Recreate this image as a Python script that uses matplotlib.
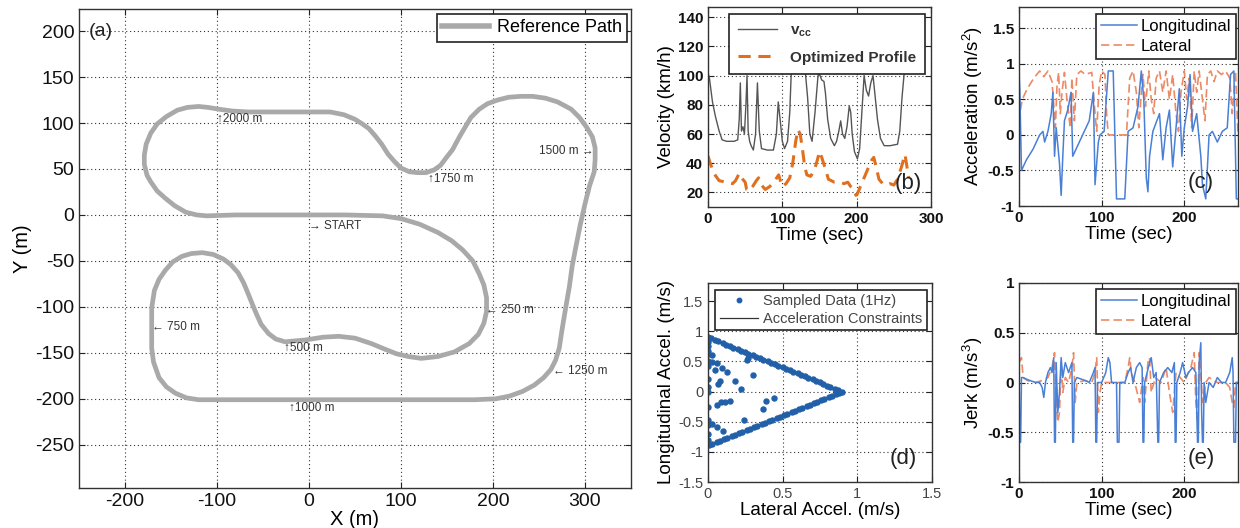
import matplotlib
matplotlib.use("Agg")
import matplotlib.pyplot as plt
from matplotlib.lines import Line2D

plt.rcParams['font.family'] = ['Liberation Sans', 'DejaVu Sans']
plt.rcParams['axes.unicode_minus'] = False
plt.rcParams['mathtext.fontset'] = 'custom'
plt.rcParams['mathtext.rm'] = 'Liberation Sans'
plt.rcParams['mathtext.bf'] = 'Liberation Sans:bold'

# ---------------- (a) reference path ----------------
track_x = [0, 40, 80, 100, 120, 140, 155, 167, 178, 185, 190, 193, 193, 190, 184, 174, 158, 140, 122, 108,
           95, 80, 68, 50, 32, 15, -4, -26, -36, -44, -52, -57, -62, -66, -71, -77, -85, -93, -104, -116,
           -128, -138, -148, -156, -163, -168, -171, -171, -171, -169, -163, -155, -145, -133, -120, -66, 23, 113, 180, 203,
           218, 232, 245, 255, 263, 268, 272, 275, 279, 283, 286, 290, 295, 300, 305, 310, 311, 311, 308, 302,
           294, 285, 270, 257, 243, 230, 217, 205, 194, 185, 176, 170, 163, 156, 149, 143, 136, 127, 118, 109,
           100, 93, 86, 79, 72, 65, 58, 50, 38, 23, 0, -22, -44, -66, -83, -98, -110, -120, -132, -143,
           -155, -165, -172, -177, -179, -179, -176, -172, -165, -156, -146, -134, -122, -111, -80, -40, 0]
track_y = [0, 0, -1, -4, -10, -19, -28, -38, -50, -64, -76, -90, -105, -118, -130, -140, -149, -154, -156, -154,
           -151, -145, -140, -134, -132, -133, -136, -138, -135, -129, -119, -108, -96, -86, -74, -63, -54, -48, -43, -41,
           -42, -45, -51, -60, -70, -82, -101, -123, -145, -160, -177, -187, -194, -199, -201, -201, -201, -201, -201, -200,
           -197, -192, -185, -177, -168, -158, -145, -125, -101, -78, -56, -35, -10, 12, 32, 47, 60, 73, 85, 95,
           106, 115, 123, 127, 129, 129, 128, 125, 121, 115, 106, 96, 84, 71, 62, 54, 49, 46, 46, 47,
           51, 58, 66, 77, 86, 94, 99, 104, 109, 112, 112, 112, 112, 112, 113, 115, 117, 118, 117, 114,
           107, 99, 89, 77, 65, 55, 43, 36, 26, 18, 10, 3, 0, -1, 0, 0, 0]

marker_text = ["\u21912000 m", "\u21911750 m", "1500 m \u2192", "\u2192 START", "\u2190 250 m",
               "\u2190 750 m", "\u2191500 m", "\u21911000 m", "\u2190 1250 m"]
marker_x = [-100, 129, 309, 0, 192, -171, -27, -22, 265]
marker_y = [104, 39, 70, -12, -103, -122, -145, -210, -170]
marker_ha = ['left', 'left', 'right', 'left', 'left', 'left', 'left', 'left', 'left']

# ---------------- (b) velocity ----------------
vcc_t = [0, 2, 6, 10, 15, 19, 25, 35, 40, 42, 43.5, 45, 47, 49, 51, 52.5, 54, 56, 58, 61,
         64, 66.5, 69, 72, 80, 88, 92, 94.5, 97, 100, 103, 107, 110, 112, 131, 134, 137, 140, 144, 148,
         150, 153, 156, 158, 161, 165, 170, 173, 176, 178.5, 181, 184, 187, 190, 192, 194, 197, 201, 204, 207,
         210, 213, 216, 219, 222, 225, 228, 232, 237, 245, 255, 258, 261, 264, 270]
vcc_v = [102, 98, 82, 72, 62, 56, 55, 55, 56, 70, 95, 62, 65, 60, 80, 100, 62, 55, 52, 49,
         60, 95, 62, 50, 49, 49, 60, 82, 70, 55, 50, 55, 75, 102, 102, 85, 60, 55, 75, 100,
         101, 97, 96, 88, 70, 57, 52, 55, 62, 69, 60, 57, 65, 79, 75, 60, 48, 43, 50, 75,
         100, 90, 86, 95, 100, 85, 70, 57, 52, 52, 53, 62, 85, 102, 102]
opt_t = [0, 3, 8, 15, 25, 33, 37, 42, 45, 50, 52, 55, 60, 65, 68, 72, 77, 83, 90, 95,
         98, 100, 105, 110, 114, 118, 121, 124, 127, 130, 133, 138, 143, 147, 150, 153, 158, 162, 170, 178,
         183, 188, 192, 196, 199, 201, 205, 210, 215, 220, 223, 226, 230, 235, 240, 245, 250, 255, 260, 265, 270]
opt_v = [45, 40, 33, 28, 27, 26, 28, 33, 30, 27, 22, 21, 24, 28, 30, 25, 22, 24, 28, 32,
         27, 24, 26, 30, 40, 55, 63, 60, 50, 38, 32, 31, 35, 42, 48, 44, 36, 29, 27, 27,
         26, 27, 24, 22, 18, 19, 24, 30, 36, 42, 44, 38, 29, 26, 25, 26, 25, 29, 37, 46, 30]

# ---------------- (c) acceleration ----------------
acc_lon_t = [0, 1, 3, 9, 17, 25, 29, 31, 35, 39, 41, 43, 45, 47, 49, 51, 53, 55, 59, 63,
             65, 69, 77, 85, 90, 92, 96, 98, 103, 108, 114, 118, 128, 132, 138, 144, 148, 151, 154, 156,
             158, 162, 170, 174, 178, 182, 186, 190, 194, 197, 200, 204, 207, 210, 215, 220, 222, 226, 230, 234,
             240, 246, 252, 256, 260, 263, 265]
acc_lon = [0.9, 0.6, -0.5, -0.35, -0.2, 0.0, 0.05, -0.1, 0.05, 0.3, 0.6, -0.3, 0.1, -0.15, -0.4, -0.85, -0.3, 0.2, 0.35, 0.6,
           -0.3, -0.2, 0.0, 0.2, 0.6, -0.7, -0.1, 0.0, 0.05, 0.9, 0.9, -0.9, -0.9, 0.05, 0.1, 0.4, 0.9, 0.5, -0.6, -0.8,
           -0.3, 0.05, 0.3, -0.35, 0.1, 0.35, -0.45, 0.1, 0.65, -0.3, 0.1, 0.4, 0.85, 0.05, 0.3, -0.3, -0.7, -0.9, 0.0, 0.05,
           -0.1, 0.05, 0.1, 0.85, 0.9, -0.9, -0.9]
acc_lat_t = [0, 1, 4, 10, 18, 25, 30, 35, 40, 44, 46, 48, 50, 52, 55, 58, 62, 64, 67, 70,
             75, 80, 88, 92, 94, 97, 100, 104, 106, 108, 130, 132, 134, 138, 142, 145, 148, 150, 153, 157,
             160, 163, 166, 170, 174, 178, 182, 186, 190, 193, 196, 200, 203, 206, 209, 212, 215, 218, 222, 225,
             228, 232, 236, 240, 245, 250, 255, 258, 262, 265]
acc_lat = [0, 0.3, 0.5, 0.65, 0.8, 0.9, 0.82, 0.9, 0.75, 0.1, 0.7, 0.88, 0.3, 0.6, 0.88, 0.5, 0.1, 0.8, 0.2, 0.85,
           0.9, 0.85, 0.88, 0.3, 0.05, 0.7, 0.9, 0.85, 0.3, 0, 0, 0.4, 0.8, 0.9, 0.6, 0.1, 0.6, 0.85, 0.4, 0.9,
           0.5, 0.3, 0.8, 0.9, 0.6, 0.9, 0.5, 0.85, 0.3, 0.05, 0.6, 0.9, 0.5, 0.8, 0.1, 0.9, 0.6, 0.9, 0.5, 0.2,
           0.85, 0.9, 0.75, 0.9, 0.85, 0.9, 0.8, 0.3, 0.9, 0]

# ---------------- (d) g-g diagram ----------------
edge_up_lat = [0.0, 0.02, 0.05, 0.07, 0.1, 0.12, 0.15, 0.17, 0.2, 0.22, 0.25, 0.27, 0.3, 0.32, 0.35, 0.37, 0.4, 0.42, 0.45,
               0.47, 0.5, 0.52, 0.55, 0.57, 0.6, 0.62, 0.65, 0.67, 0.7, 0.72, 0.75, 0.77, 0.8, 0.82, 0.85, 0.87, 0.9]
edge_up_lon = [0.9, 0.88, 0.85, 0.83, 0.8, 0.78, 0.75, 0.73, 0.7, 0.68, 0.65, 0.63, 0.6, 0.58, 0.55, 0.53, 0.5, 0.48, 0.45,
               0.43, 0.4, 0.38, 0.35, 0.33, 0.3, 0.28, 0.25, 0.23, 0.2, 0.18, 0.15, 0.13, 0.1, 0.08, 0.05, 0.03, 0.0]
edge_lo_lat = [0.01, 0.03, 0.06, 0.08, 0.11, 0.13, 0.16, 0.18, 0.21, 0.23, 0.26, 0.28, 0.31, 0.33, 0.36, 0.38, 0.41, 0.43,
               0.46, 0.48, 0.51, 0.53, 0.56, 0.58, 0.61, 0.63, 0.66, 0.68, 0.71, 0.73, 0.76, 0.78, 0.81, 0.83, 0.86, 0.88]
edge_lo_lon = [-0.89, -0.87, -0.84, -0.82, -0.79, -0.77, -0.74, -0.72, -0.69, -0.67, -0.64, -0.62, -0.59, -0.57, -0.54,
               -0.52, -0.49, -0.47, -0.44, -0.42, -0.39, -0.37, -0.34, -0.32, -0.29, -0.27, -0.24, -0.22, -0.19, -0.17,
               -0.14, -0.12, -0.09, -0.07, -0.04, -0.02]
inner_lat = [0, 0, 0, 0, 0, 0, 0, 0, 0, 0, 0, 0, 0, 0, 0.025, 0.06, 0.044, 0.093, 0.127,
             0.26, 0.30, 0.082, 0.07, 0.18, 0.22, 0.09, 0.115, 0.15, 0.06, 0.39, 0.44, 0.365, 0.24, 0.025, 0.06, 0.1,
             0.03, 0.27]
inner_lon = [0.82, 0.75, 0.68, 0.62, 0.5, 0.42, 0.2, 0.07, 0.0, -0.26, -0.48, -0.55, -0.7, -0.8, 0.49, 0.47, 0.35, 0.39,
             0.32, 0.53, 0.28, 0.18, 0.13, 0.18, 0.05, -0.17, -0.17, -0.15, -0.22, -0.16, -0.1, -0.29, -0.47, -0.53,
             -0.58, -0.65, 0.6, 0.55]
con_lat = [0, 0.9, 0]
con_lon = [0.9, 0, -0.9]

# ---------------- (e) jerk ----------------
jerk_lon_t = [0, 1, 2, 3, 5, 10, 20, 25, 28, 30, 32, 35, 38, 40, 42, 43, 44, 45, 47, 49,
              51, 53, 56, 60, 64, 65, 66, 67, 70, 80, 85, 90, 92, 93, 94, 95, 100, 105, 108, 110,
              112, 118, 119, 121, 122, 128, 132, 135, 138, 142, 146, 149, 150, 151, 152, 155, 158, 160, 163, 166,
              168, 169, 170, 175, 180, 185, 188, 189, 190, 191, 195, 198, 202, 205, 210, 214, 216, 217, 218, 220,
              221, 222, 223, 224, 226, 230, 235, 240, 245, 250, 255, 258, 259, 260, 262, 263, 265]
jerk_lon = [0.15, -0.6, -0.6, 0.05, 0.05, 0.03, 0, 0, -0.05, -0.15, 0, 0.1, 0.15, 0.1, 0.25, -0.6, -0.6, 0.2, -0.3, -0.1,
            0.25, 0.05, 0.2, 0.1, 0.2, -0.6, -0.6, 0, 0.05, 0.02, 0, 0.1, 0.15, -0.6, -0.6, 0, 0, 0.1, 0.25, 0.2,
            0, 0, -0.6, -0.6, 0, 0, 0.1, 0.15, 0, 0.15, 0.2, 0.15, -0.6, -0.6, 0, 0.1, 0.2, 0.25, 0.05, 0.1,
            -0.6, -0.6, 0, 0.1, 0.15, 0.1, 0.2, -0.6, -0.6, 0, 0.1, 0.2, 0.05, 0.1, 0.15, 0.1, -0.6, -0.6, 0.2, 0.4,
            -0.3, -0.6, -0.6, 0, -0.2, 0, -0.05, 0.05, 0, 0, 0.1, 0.25, 0.1, -0.6, -0.6, 0, 0]
jerk_lat_t = [0, 3, 5, 10, 20, 28, 35, 40, 43, 45, 47, 49, 51, 53, 56, 60, 64, 66, 68, 70,
              80, 88, 92, 94, 96, 98, 100, 110, 120, 128, 132, 134, 136, 140, 143, 146, 150, 152, 156, 158,
              160, 165, 172, 178, 182, 186, 190, 195, 200, 205, 208, 212, 214, 216, 218, 220, 222, 226, 230, 240,
              250, 255, 258, 260, 262, 265]
jerk_lat = [0.2, 0.25, 0.05, 0.02, 0, 0.02, 0.05, 0.15, 0.3, -0.2, -0.4, -0.3, 0.2, -0.1, 0.05, 0, 0.15, 0.3, -0.2, 0,
            0.02, 0, 0.1, 0.25, -0.3, -0.1, 0, 0, 0, 0, 0.15, 0.25, 0.1, 0, -0.1, -0.2, 0.05, -0.2, 0.2, 0.25,
            -0.1, 0.05, 0, 0.15, -0.1, -0.3, 0.1, 0.05, 0, 0.1, 0.15, 0.3, -0.2, -0.4, 0.3, 0.1, -0.2, 0, 0.05, 0,
            0, -0.05, -0.2, -0.25, 0, 0]

# ---------------- styling helpers ----------------
W, H = 1240, 528
fig = plt.figure(figsize=(W / 100, H / 100), dpi=100)


def box(l, t, r, b):
    return [l / W, (H - b) / H, (r - l) / W, (b - t) / H]


GRID = dict(color='#333333', linestyle=(0, (1, 2.5)), linewidth=0.8)


def style(ax, tick_fs, bold=False, tcolor='#111111'):
    ax.tick_params(direction='in', length=4, width=0.8, labelsize=tick_fs, colors='#222222',
                   labelcolor=tcolor, top=True, right=True)
    for s in ax.spines.values():
        s.set_linewidth(1.0)
        s.set_color('#333333')
    ax.grid(True, **GRID)
    ax.set_axisbelow(True)


def set_ticks(ax, xt, yt, bold=False):
    w = 'bold' if bold else 'normal'
    ax.set_xticks(xt)
    ax.set_xticklabels([('%g' % v) for v in xt], fontweight=w)
    ax.set_yticks(yt)
    ax.set_yticklabels([('%g' % v) for v in yt], fontweight=w)


def legend(ax, handles, labels, fs, anchor, **kw):
    lg = ax.legend(handles, labels, loc='upper right', bbox_to_anchor=anchor, borderaxespad=0,
                   fontsize=fs, fancybox=False, framealpha=1, edgecolor='#222222', **kw)
    lg.get_frame().set_linewidth(1.2)
    return lg


# ---------------- (a) ----------------
axa = fig.add_axes(box(79, 9, 631, 488))
axa.plot(track_x, track_y, color='#a9a9a9', lw=3.4, solid_joinstyle='round', solid_capstyle='round')
axa.set_xlim(-250, 350)
axa.set_ylim(-297, 224)
set_ticks(axa, [-200, -100, 0, 100, 200, 300], [-250, -200, -150, -100, -50, 0, 50, 100, 150, 200])
style(axa, 14)
axa.set_xlabel('X (m)', fontsize=14.5, labelpad=0)
axa.set_ylabel('Y (m)', fontsize=14.5, labelpad=2)
for s, x, y, ha in zip(marker_text, marker_x, marker_y, marker_ha):
    axa.text(x, y, s, fontsize=8.5, color='#333333', ha=ha, va='center')
axa.text(-239, 200, '(a)', fontsize=14, va='center', ha='left', color='#222222')
legend(axa, [Line2D([], [], color='#a9a9a9', lw=4)], ['Reference Path'], 13,
       (1 - 4 / 552, 1 - 5 / 479), handlelength=2.6, handletextpad=0.4, borderpad=0.3)

# ---------------- (b) ----------------
axb = fig.add_axes(box(708, 7, 931, 207))
axb.plot(vcc_t, vcc_v, color='#555555', lw=1.0)
axb.plot(opt_t, opt_v, color='#e07020', lw=2.2, dashes=(4, 2.5))
axb.set_xlim(0, 300)
axb.set_ylim(10, 147)
set_ticks(axb, [0, 100, 200, 300], [20, 40, 60, 80, 100, 120, 140], bold=True)
style(axb, 11)
axb.set_xlabel('Time (sec)', fontsize=13.5, labelpad=1)
axb.set_ylabel('Velocity (km/h)', fontsize=13.5, labelpad=2)
axb.text(0.9, 0.12, '(b)', transform=axb.transAxes, fontsize=16, ha='center', va='center', color='#222222')
lgb = legend(axb, [Line2D([], [], color='#555555', lw=1.0),
                   Line2D([], [], color='#e07020', lw=2.2, dashes=(4, 2.5))],
             [r'$\mathbf{v_{cc}}$', 'Optimized Profile'], 11, (1 - 6 / 223, 1 - 7 / 200),
             handlelength=2.6, handletextpad=0.8, labelspacing=0.8, borderpad=0.6)
for t in lgb.get_texts():
    t.set_fontweight('bold')
    t.set_color('#333333')

# ---------------- (c) ----------------
axc = fig.add_axes(box(1019, 7, 1238, 206))
axc.plot(acc_lat_t, acc_lat, color='#ec8a66', lw=1.2, dashes=(5, 2.5))
axc.plot(acc_lon_t, acc_lon, color='#4a7fd6', lw=1.1)
axc.set_xlim(0, 265)
axc.set_ylim(-1, 1.8)
set_ticks(axc, [0, 100, 200], [-1, -0.5, 0, 0.5, 1, 1.5], bold=True)
style(axc, 11)
axc.set_xlabel('Time (sec)', fontsize=13.5, labelpad=1)
axc.set_ylabel('Acceleration (m/s$^2$)', fontsize=13.5, labelpad=2)
axc.text(0.83, 0.12, '(c)', transform=axc.transAxes, fontsize=16, ha='center', va='center', color='#222222')
legend(axc, [Line2D([], [], color='#4a7fd6', lw=1.1), Line2D([], [], color='#ec8a66', lw=1.2, dashes=(5, 2.5))],
       ['Longitudinal', 'Lateral'], 12, (1 - 2 / 219, 1 - 7 / 199), handlelength=2.2, handletextpad=0.2,
       labelspacing=0.3, borderpad=0.3)

# ---------------- (d) ----------------
axd = fig.add_axes(box(708, 283, 932, 482))
axd.plot(con_lat, con_lon, color='#333333', lw=0.9)
for la, lo in ((edge_up_lat, edge_up_lon), (edge_lo_lat, edge_lo_lon), (inner_lat, inner_lon)):
    axd.plot(la, lo, linestyle='none', marker='o', ms=3.6, color='#2160a8', mec='#2160a8')
axd.set_xlim(0, 1.5)
axd.set_ylim(-1.5, 1.8)
set_ticks(axd, [0, 0.5, 1, 1.5], [-1.5, -1, -0.5, 0, 0.5, 1, 1.5])
style(axd, 10.5, tcolor='#444444')
axd.set_xlabel('Lateral Accel. (m/s)', fontsize=13.5, labelpad=1)
axd.set_ylabel('Longitudinal Accel. (m/s)', fontsize=13.5, labelpad=2)
axd.text(0.87, 0.12, '(d)', transform=axd.transAxes, fontsize=16, ha='center', va='center', color='#222222')
lgd = legend(axd, [Line2D([], [], linestyle='none', marker='o', ms=3.2, color='#2160a8'),
                   Line2D([], [], color='#333333', lw=0.9)],
             ['Sampled Data (1Hz)', 'Acceleration Constraints'], 10.5, (1 - 5 / 224, 1 - 7 / 199),
             handlelength=2.6, handletextpad=0.4, labelspacing=0.25, borderpad=0.3)
for t in lgd.get_texts():
    t.set_color('#444444')

# ---------------- (e) ----------------
axe = fig.add_axes(box(1019, 283, 1238, 482))
axe.plot(jerk_lat_t, jerk_lat, color='#ec8a66', lw=1.2, dashes=(5, 2.5))
axe.plot(jerk_lon_t, jerk_lon, color='#4a7fd6', lw=1.1)
axe.set_xlim(0, 265)
axe.set_ylim(-1, 1)
set_ticks(axe, [0, 100, 200], [-1, -0.5, 0, 0.5, 1], bold=True)
style(axe, 11)
axe.set_xlabel('Time (sec)', fontsize=13.5, labelpad=1)
axe.set_ylabel('Jerk (m/s$^3$)', fontsize=13.5, labelpad=2)
axe.text(0.83, 0.12, '(e)', transform=axe.transAxes, fontsize=16, ha='center', va='center', color='#222222')
legend(axe, [Line2D([], [], color='#4a7fd6', lw=1.1), Line2D([], [], color='#ec8a66', lw=1.2, dashes=(5, 2.5))],
       ['Longitudinal', 'Lateral'], 12, (1 - 2 / 219, 1 - 6 / 199), handlelength=2.2, handletextpad=0.2,
       labelspacing=0.3, borderpad=0.3)

fig.savefig('out.png', dpi=100)
